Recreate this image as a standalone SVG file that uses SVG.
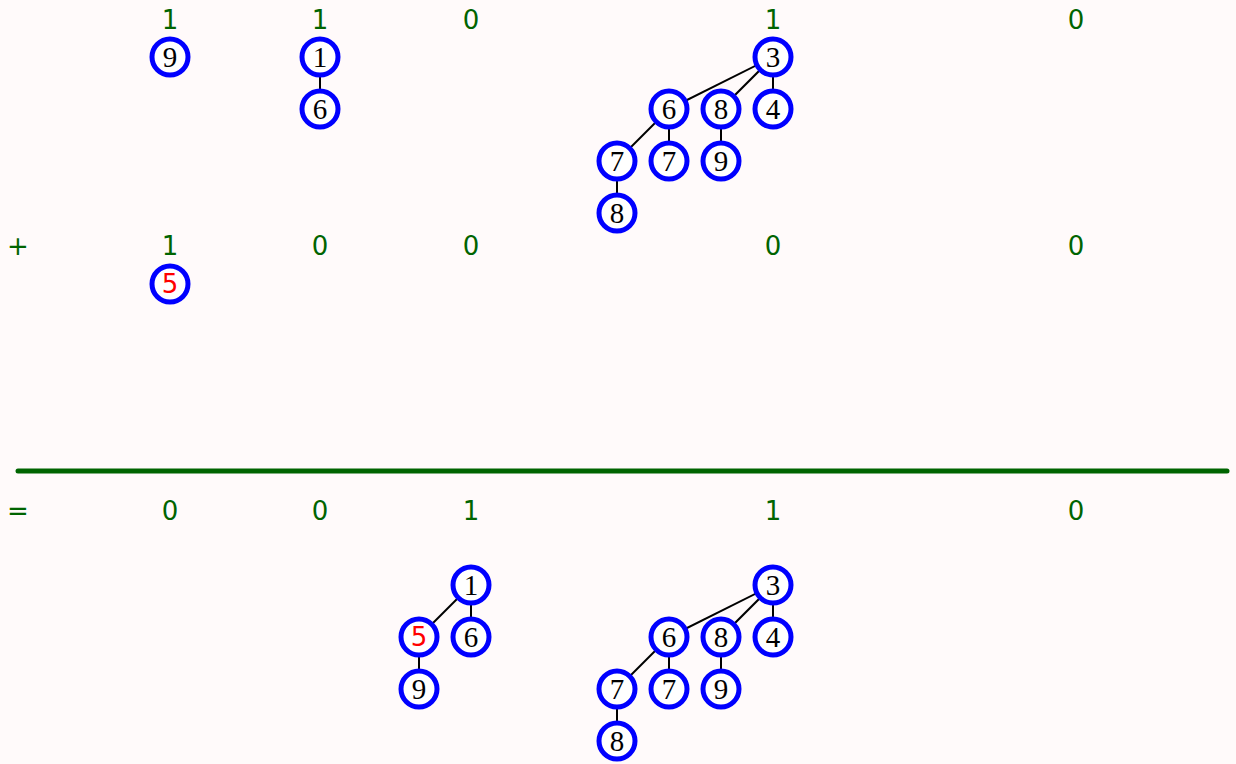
<svg xmlns="http://www.w3.org/2000/svg" width="1236" height="764" viewBox="0 0 1236 764">
<style>
.bg{fill:#fffafa}
.lbl{font-family:"DejaVu Sans",sans-serif;font-size:26px;fill:#006400;text-anchor:middle}
.n circle{fill:#fff;stroke:#0000ff;stroke-width:5}
.n text{font-family:"Liberation Serif","DejaVu Serif",serif;font-size:29px;fill:#000;text-anchor:middle;dominant-baseline:central}
.n text.r{font-family:"DejaVu Sans",sans-serif;font-size:26px;fill:#ff0000}
.e line{stroke:#000;stroke-width:2}
</style>
<rect class="bg" width="1236" height="764"/>
<g id="labels">
<text class="lbl" x="170" y="29">1</text>
<text class="lbl" x="320" y="29">1</text>
<text class="lbl" x="471" y="29">0</text>
<text class="lbl" x="773" y="29">1</text>
<text class="lbl" x="1076" y="29">0</text>
<text class="lbl" x="18" y="255">+</text>
<text class="lbl" x="170" y="255">1</text>
<text class="lbl" x="320" y="255">0</text>
<text class="lbl" x="471" y="255">0</text>
<text class="lbl" x="773" y="255">0</text>
<text class="lbl" x="1076" y="255">0</text>
<text class="lbl" x="18" y="520">=</text>
<text class="lbl" x="170" y="520">0</text>
<text class="lbl" x="320" y="520">0</text>
<text class="lbl" x="471" y="520">1</text>
<text class="lbl" x="773" y="520">1</text>
<text class="lbl" x="1076" y="520">0</text>
</g>
<line id="sumline" x1="18" y1="471" x2="1227" y2="471" stroke="#006400" stroke-width="5" stroke-linecap="round"/>
<g id="edges" class="e">
<line x1="320" y1="57" x2="320" y2="109"/>
<line x1="773" y1="57" x2="669" y2="109"/>
<line x1="773" y1="57" x2="721" y2="109"/>
<line x1="773" y1="57" x2="773" y2="109"/>
<line x1="669" y1="109" x2="617" y2="161"/>
<line x1="669" y1="109" x2="669" y2="161"/>
<line x1="721" y1="109" x2="721" y2="161"/>
<line x1="617" y1="161" x2="617" y2="213"/>
<line x1="471" y1="585" x2="419" y2="637"/>
<line x1="471" y1="585" x2="471" y2="637"/>
<line x1="419" y1="637" x2="419" y2="689"/>
<line x1="773" y1="585" x2="669" y2="637"/>
<line x1="773" y1="585" x2="721" y2="637"/>
<line x1="773" y1="585" x2="773" y2="637"/>
<line x1="669" y1="637" x2="617" y2="689"/>
<line x1="669" y1="637" x2="669" y2="689"/>
<line x1="721" y1="637" x2="721" y2="689"/>
<line x1="617" y1="689" x2="617" y2="741"/>
</g>
<g id="a9" class="n"><circle cx="170" cy="57" r="18"/><text x="170" y="57">9</text></g>
<g id="a1" class="n"><circle cx="320" cy="57" r="18"/><text x="320" y="57">1</text></g>
<g id="a6" class="n"><circle cx="320" cy="109" r="18"/><text x="320" y="109">6</text></g>
<g id="a3" class="n"><circle cx="773" cy="57" r="18"/><text x="773" y="57">3</text></g>
<g id="a6b" class="n"><circle cx="669" cy="109" r="18"/><text x="669" y="109">6</text></g>
<g id="a8" class="n"><circle cx="721" cy="109" r="18"/><text x="721" y="109">8</text></g>
<g id="a4" class="n"><circle cx="773" cy="109" r="18"/><text x="773" y="109">4</text></g>
<g id="a7" class="n"><circle cx="617" cy="161" r="18"/><text x="617" y="161">7</text></g>
<g id="a7b" class="n"><circle cx="669" cy="161" r="18"/><text x="669" y="161">7</text></g>
<g id="a9b" class="n"><circle cx="721" cy="161" r="18"/><text x="721" y="161">9</text></g>
<g id="a8b" class="n"><circle cx="617" cy="213" r="18"/><text x="617" y="213">8</text></g>
<g id="b5" class="n"><circle cx="170" cy="284" r="18"/><text class="r" x="170" y="284">5</text></g>
<g id="c1" class="n"><circle cx="471" cy="585" r="18"/><text x="471" y="585">1</text></g>
<g id="c5" class="n"><circle cx="419" cy="637" r="18"/><text class="r" x="419" y="637">5</text></g>
<g id="c6" class="n"><circle cx="471" cy="637" r="18"/><text x="471" y="637">6</text></g>
<g id="c9" class="n"><circle cx="419" cy="689" r="18"/><text x="419" y="689">9</text></g>
<g id="c3" class="n"><circle cx="773" cy="585" r="18"/><text x="773" y="585">3</text></g>
<g id="c6b" class="n"><circle cx="669" cy="637" r="18"/><text x="669" y="637">6</text></g>
<g id="c8" class="n"><circle cx="721" cy="637" r="18"/><text x="721" y="637">8</text></g>
<g id="c4" class="n"><circle cx="773" cy="637" r="18"/><text x="773" y="637">4</text></g>
<g id="c7" class="n"><circle cx="617" cy="689" r="18"/><text x="617" y="689">7</text></g>
<g id="c7b" class="n"><circle cx="669" cy="689" r="18"/><text x="669" y="689">7</text></g>
<g id="c9b" class="n"><circle cx="721" cy="689" r="18"/><text x="721" y="689">9</text></g>
<g id="c8b" class="n"><circle cx="617" cy="741" r="18"/><text x="617" y="741">8</text></g>
</svg>
